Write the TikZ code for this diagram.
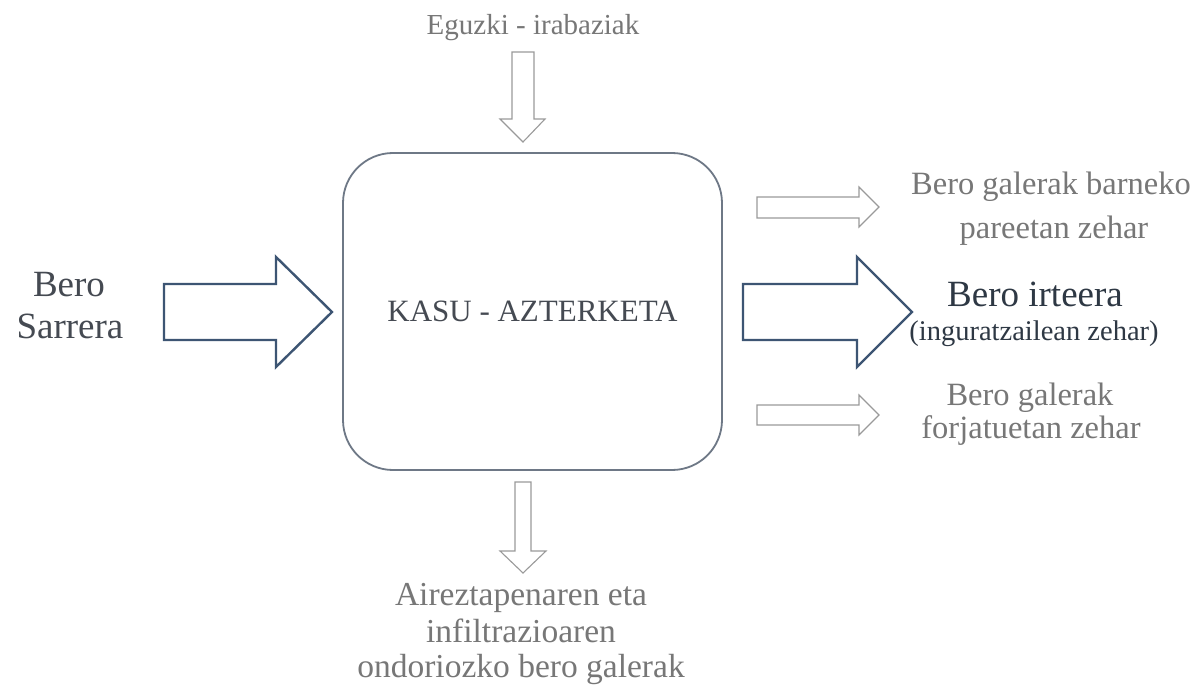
\documentclass[tikz,border=0pt]{standalone}
\usepackage{fontspec}
\setmainfont{Liberation Serif}
\definecolor{boxline}{HTML}{6E7886}
\definecolor{bigarrow}{HTML}{3D5573}
\definecolor{smallarrow}{HTML}{9A9A9A}
\definecolor{softtext}{HTML}{777777}
\definecolor{darktext}{HTML}{2E3844}
\definecolor{midtext}{HTML}{454A52}
\begin{document}
\begin{tikzpicture}[x=1pt,y=-1pt,
  casebox/.style={draw=boxline, line width=1.8pt, rounded corners=50pt,
    minimum width=379pt, minimum height=317pt, inner sep=0pt},
  mainflow/.style={draw=bigarrow, line width=2.4pt, fill=white, line join=miter},
  lossflow/.style={draw=smallarrow, line width=1.1pt, fill=white, line join=miter},
  softlabel/.style={anchor=base, inner sep=0pt, text=softtext},
  darklabel/.style={anchor=base, inner sep=0pt, text=darktext}]
\useasboundingbox (0,0) rectangle (1203,687);
\fill[white] (0,0) rectangle (1203,687);

% central case-study block
\node[casebox, text=midtext, font=\fontsize{31}{36}\selectfont] (case) at (532.5,311.5) {KASU - AZTERKETA};

% heat input (left) and heat output through the envelope (right)
\draw[mainflow] (164,284) -- (276,284) -- (276,257) -- (332,312) -- (276,367) -- (276,340) -- (164,340) -- cycle;
\draw[mainflow] (743,284) -- (857,284) -- (857,257) -- (912,312) -- (857,367) -- (857,340) -- (743,340) -- cycle;

% solar gains (top) and ventilation losses (bottom)
\draw[lossflow] (512,52) -- (534,52) -- (534,119) -- (545,119) -- (523,142) -- (500,119) -- (512,119) -- cycle;
\draw[lossflow] (515,482) -- (531,482) -- (531,551) -- (546,551) -- (523,573) -- (500,551) -- (515,551) -- cycle;

% losses through inner walls and through floors
\draw[lossflow] (757,197) -- (859,197) -- (859,187) -- (879,207) -- (859,227) -- (859,218) -- (757,218) -- cycle;
\draw[lossflow] (757,405) -- (859,405) -- (859,395) -- (879,415) -- (859,435) -- (859,425) -- (757,425) -- cycle;

% labels
\node[softlabel, font=\fontsize{29}{34}\selectfont] (solar) at (533,35) {Eguzki - irabaziak};

\node[darklabel, text=midtext, font=\fontsize{37}{42}\selectfont] (inA) at (69,297) {Bero};
\node[darklabel, text=midtext, font=\fontsize{37}{42}\selectfont] (inB) at (70,338) {Sarrera};

\node[softlabel, font=\fontsize{32.5}{38}\selectfont] (wallA) at (1051,195) {Bero galerak barneko};
\node[softlabel, font=\fontsize{32.5}{38}\selectfont] (wallB) at (1054,239) {pareetan zehar};

\node[darklabel, font=\fontsize{37}{42}\selectfont] (outA) at (1035,306) {Bero irteera};
\node[darklabel, font=\fontsize{28.5}{32}\selectfont] (outB) at (1034,341) {(inguratzailean zehar)};

\node[softlabel, font=\fontsize{32.5}{38}\selectfont] (floorA) at (1030,405) {Bero galerak};
\node[softlabel, font=\fontsize{32.5}{38}\selectfont] (floorB) at (1031,438) {forjatuetan zehar};

\node[softlabel, font=\fontsize{33.5}{38}\selectfont] (ventA) at (521,605) {Aireztapenaren eta};
\node[softlabel, font=\fontsize{33.5}{38}\selectfont] (ventB) at (521,642) {infiltrazioaren};
\node[softlabel, font=\fontsize{33.5}{38}\selectfont] (ventC) at (521,677) {ondoriozko bero galerak};
\end{tikzpicture}
\end{document}
